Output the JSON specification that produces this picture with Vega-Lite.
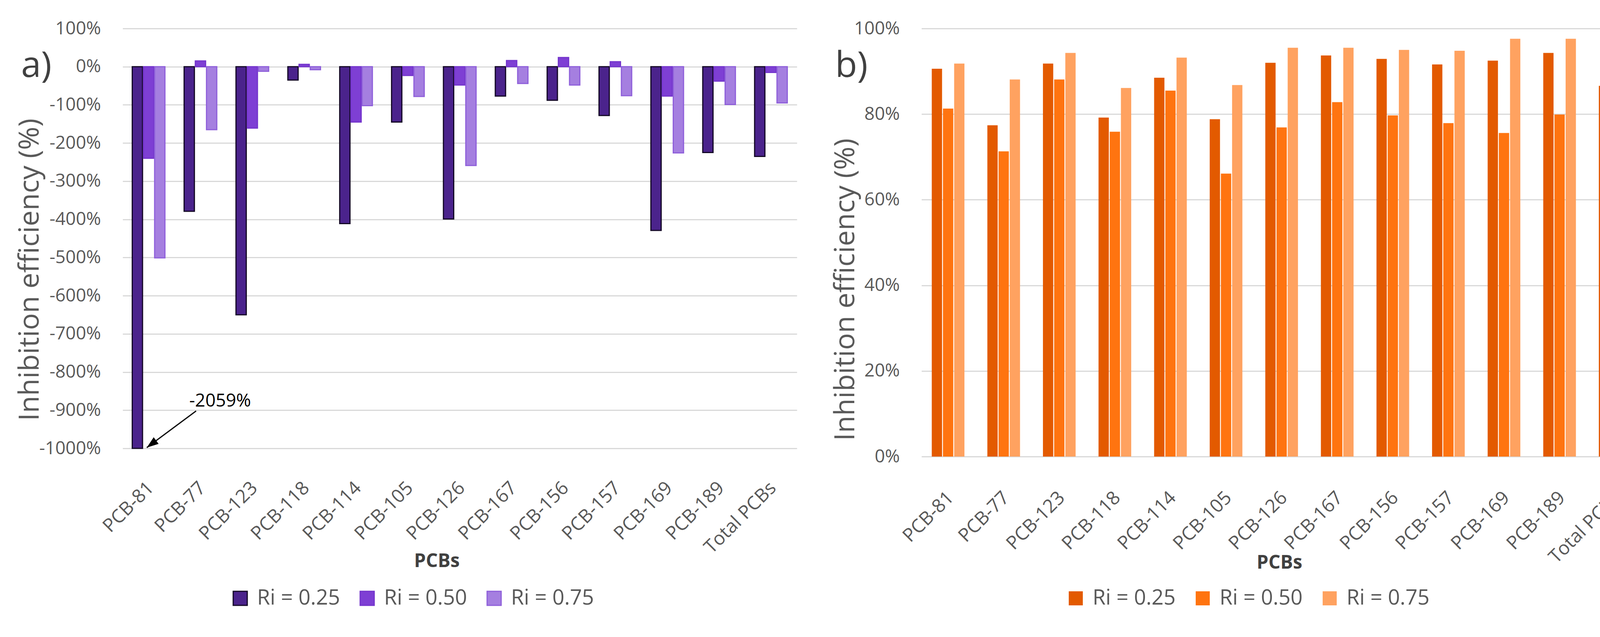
{
  "$schema": "https://vega.github.io/schema/vega-lite/v6.json",
  "background": "white",
  "padding": {"left": 40, "top": 50, "right": 58, "bottom": 72},
  "config": {
    "font": "Open Sans",
    "view": {"stroke": null},
    "axis": {"labelFont": "Open Sans", "titleFont": "Open Sans", "labelLimit": 0},
    "legend": {"labelFont": "Open Sans", "labelLimit": 0}
  },
  "datasets": {
    "a": [
      {"pcb": "PCB-81", "ri": "Ri = 0.25", "value": -2059},
      {"pcb": "PCB-81", "ri": "Ri = 0.50", "value": -240},
      {"pcb": "PCB-81", "ri": "Ri = 0.75", "value": -501},
      {"pcb": "PCB-77", "ri": "Ri = 0.25", "value": -379},
      {"pcb": "PCB-77", "ri": "Ri = 0.50", "value": 15},
      {"pcb": "PCB-77", "ri": "Ri = 0.75", "value": -165},
      {"pcb": "PCB-123", "ri": "Ri = 0.25", "value": -650},
      {"pcb": "PCB-123", "ri": "Ri = 0.50", "value": -161},
      {"pcb": "PCB-123", "ri": "Ri = 0.75", "value": -12},
      {"pcb": "PCB-118", "ri": "Ri = 0.25", "value": -35},
      {"pcb": "PCB-118", "ri": "Ri = 0.50", "value": 6},
      {"pcb": "PCB-118", "ri": "Ri = 0.75", "value": -8},
      {"pcb": "PCB-114", "ri": "Ri = 0.25", "value": -411},
      {"pcb": "PCB-114", "ri": "Ri = 0.50", "value": -145},
      {"pcb": "PCB-114", "ri": "Ri = 0.75", "value": -102},
      {"pcb": "PCB-105", "ri": "Ri = 0.25", "value": -145},
      {"pcb": "PCB-105", "ri": "Ri = 0.50", "value": -23},
      {"pcb": "PCB-105", "ri": "Ri = 0.75", "value": -78},
      {"pcb": "PCB-126", "ri": "Ri = 0.25", "value": -399},
      {"pcb": "PCB-126", "ri": "Ri = 0.50", "value": -48},
      {"pcb": "PCB-126", "ri": "Ri = 0.75", "value": -259},
      {"pcb": "PCB-167", "ri": "Ri = 0.25", "value": -77},
      {"pcb": "PCB-167", "ri": "Ri = 0.50", "value": 16},
      {"pcb": "PCB-167", "ri": "Ri = 0.75", "value": -44},
      {"pcb": "PCB-156", "ri": "Ri = 0.25", "value": -88},
      {"pcb": "PCB-156", "ri": "Ri = 0.50", "value": 24},
      {"pcb": "PCB-156", "ri": "Ri = 0.75", "value": -48},
      {"pcb": "PCB-157", "ri": "Ri = 0.25", "value": -128},
      {"pcb": "PCB-157", "ri": "Ri = 0.50", "value": 13},
      {"pcb": "PCB-157", "ri": "Ri = 0.75", "value": -76},
      {"pcb": "PCB-169", "ri": "Ri = 0.25", "value": -429},
      {"pcb": "PCB-169", "ri": "Ri = 0.50", "value": -77},
      {"pcb": "PCB-169", "ri": "Ri = 0.75", "value": -226},
      {"pcb": "PCB-189", "ri": "Ri = 0.25", "value": -225},
      {"pcb": "PCB-189", "ri": "Ri = 0.50", "value": -38},
      {"pcb": "PCB-189", "ri": "Ri = 0.75", "value": -99},
      {"pcb": "Total PCBs", "ri": "Ri = 0.25", "value": -235},
      {"pcb": "Total PCBs", "ri": "Ri = 0.50", "value": -15},
      {"pcb": "Total PCBs", "ri": "Ri = 0.75", "value": -95}
    ],
    "b": [
      {"pcb": "PCB-81", "ri": "Ri = 0.25", "value": 90.6},
      {"pcb": "PCB-81", "ri": "Ri = 0.50", "value": 81.3},
      {"pcb": "PCB-81", "ri": "Ri = 0.75", "value": 91.8},
      {"pcb": "PCB-77", "ri": "Ri = 0.25", "value": 77.4},
      {"pcb": "PCB-77", "ri": "Ri = 0.50", "value": 71.3},
      {"pcb": "PCB-77", "ri": "Ri = 0.75", "value": 88.1},
      {"pcb": "PCB-123", "ri": "Ri = 0.25", "value": 91.8},
      {"pcb": "PCB-123", "ri": "Ri = 0.50", "value": 88.1},
      {"pcb": "PCB-123", "ri": "Ri = 0.75", "value": 94.3},
      {"pcb": "PCB-118", "ri": "Ri = 0.25", "value": 79.2},
      {"pcb": "PCB-118", "ri": "Ri = 0.50", "value": 75.9},
      {"pcb": "PCB-118", "ri": "Ri = 0.75", "value": 86.1},
      {"pcb": "PCB-114", "ri": "Ri = 0.25", "value": 88.5},
      {"pcb": "PCB-114", "ri": "Ri = 0.50", "value": 85.5},
      {"pcb": "PCB-114", "ri": "Ri = 0.75", "value": 93.2},
      {"pcb": "PCB-105", "ri": "Ri = 0.25", "value": 78.8},
      {"pcb": "PCB-105", "ri": "Ri = 0.50", "value": 66.1},
      {"pcb": "PCB-105", "ri": "Ri = 0.75", "value": 86.8},
      {"pcb": "PCB-126", "ri": "Ri = 0.25", "value": 92.0},
      {"pcb": "PCB-126", "ri": "Ri = 0.50", "value": 76.9},
      {"pcb": "PCB-126", "ri": "Ri = 0.75", "value": 95.5},
      {"pcb": "PCB-167", "ri": "Ri = 0.25", "value": 93.7},
      {"pcb": "PCB-167", "ri": "Ri = 0.50", "value": 82.8},
      {"pcb": "PCB-167", "ri": "Ri = 0.75", "value": 95.5},
      {"pcb": "PCB-156", "ri": "Ri = 0.25", "value": 92.9},
      {"pcb": "PCB-156", "ri": "Ri = 0.50", "value": 79.7},
      {"pcb": "PCB-156", "ri": "Ri = 0.75", "value": 95.0},
      {"pcb": "PCB-157", "ri": "Ri = 0.25", "value": 91.6},
      {"pcb": "PCB-157", "ri": "Ri = 0.50", "value": 77.9},
      {"pcb": "PCB-157", "ri": "Ri = 0.75", "value": 94.8},
      {"pcb": "PCB-169", "ri": "Ri = 0.25", "value": 92.5},
      {"pcb": "PCB-169", "ri": "Ri = 0.50", "value": 75.6},
      {"pcb": "PCB-169", "ri": "Ri = 0.75", "value": 97.6},
      {"pcb": "PCB-189", "ri": "Ri = 0.25", "value": 94.3},
      {"pcb": "PCB-189", "ri": "Ri = 0.50", "value": 79.9},
      {"pcb": "PCB-189", "ri": "Ri = 0.75", "value": 97.6},
      {"pcb": "Total PCBs", "ri": "Ri = 0.25", "value": 86.6},
      {"pcb": "Total PCBs", "ri": "Ri = 0.50", "value": 76.5},
      {"pcb": "Total PCBs", "ri": "Ri = 0.75", "value": 92.0}
    ],
    "note": [{"pcb": "PCB-77", "value": -876, "label": "-2059%"}],
    "arrow": [{"pcb": "PCB-77", "pcb2": "PCB-81", "value": -902, "value2": -998}],
    "head": [{"pcb": "PCB-81", "value": -998}]
  },
  "spacing": 88,
  "resolve": {"scale": {"color": "independent", "stroke": "independent"}},
  "hconcat": [
    {
      "width": 1726,
      "height": 1075,
      "title": {"text": "a)", "anchor": "start", "frame": "group", "fontSize": 92, "fontWeight": "normal", "color": "#404040", "align": "left", "dx": -260, "dy": 170},
      "layer": [
        {
          "data": {"name": "a"},
          "mark": {"type": "bar", "strokeWidth": 3},
          "encoding": {
            "x": {"field": "pcb", "type": "nominal", "sort": null,
              "scale": {"domain": ["PCB-81","PCB-77","PCB-123","PCB-118","PCB-114","PCB-105","PCB-126","PCB-167","PCB-156","PCB-157","PCB-169","PCB-189","Total PCBs"], "paddingInner": 0.37, "paddingOuter": 0.185},
              "axis": {"title": "PCBs", "titleFontSize": 48, "titleFontWeight": "bold", "titleColor": "#404040", "titleX": 804, "titleY": 289, "titleBaseline": "middle", "labelAngle": -45, "labelAlign": "right", "labelBaseline": "middle", "labelFontSize": 48, "labelColor": "#595959", "labelPadding": 94, "labelOffset": 6, "ticks": false, "domain": false, "grid": false}},
            "xOffset": {"field": "ri", "type": "nominal", "scale": {"domain": ["Ri = 0.25","Ri = 0.50","Ri = 0.75"], "paddingInner": 0.08}},
            "y": {"field": "value", "type": "quantitative",
              "scale": {"domain": [-1000, 100], "nice": false, "clamp": true},
              "axis": {"title": "Inhibition efficiency (%)", "titleFontSize": 72, "titleFontWeight": "normal", "titleColor": "#595959", "titleX": -238, "titleY": 617, "titleBaseline": "middle", "titleAlign": "center", "titleAngle": -90,
                "values": [-1000,-900,-800,-700,-600,-500,-400,-300,-200,-100,0,100], "labelExpr": "datum.value + '%'", "labelFontSize": 46, "labelColor": "#595959", "labelPadding": 56, "ticks": false, "domain": false, "gridColor": "#d9d9d9", "gridWidth": 3}},
            "color": {"field": "ri", "type": "nominal",
              "scale": {"domain": ["Ri = 0.25","Ri = 0.50","Ri = 0.75"], "range": ["#4B238C", "#7E3FD4", "#A57FE0"]},
              "legend": {"title": null, "orient": "none", "legendX": 274, "legendY": 1432, "direction": "horizontal", "symbolType": "square", "symbolSize": 1296, "symbolStrokeWidth": 3, "labelFontSize": 54, "labelColor": "#595959", "labelOffset": 16, "columnPadding": 42, "padding": 0}},
            "stroke": {"field": "ri", "type": "nominal",
              "scale": {"domain": ["Ri = 0.25","Ri = 0.50","Ri = 0.75"], "range": ["#140826", "#7435CC", "#8F60DA"]},
              "legend": null}
          }
        },
        {
          "data": {"name": "arrow"},
          "mark": {"type": "rule", "stroke": "black", "strokeWidth": 3},
          "encoding": {
            "x": {"field": "pcb", "type": "nominal", "bandPosition": 0.367},
            "x2": {"field": "pcb2", "bandPosition": 0.445},
            "y": {"field": "value", "type": "quantitative"},
            "y2": {"field": "value2"}
          }
        },
        {
          "data": {"name": "head"},
          "mark": {"type": "point", "shape": "M0,0L0.42,1.2L-0.42,1.2Z", "filled": true, "color": "black", "opacity": 1, "size": 2500, "angle": 233, "strokeWidth": 0},
          "encoding": {
            "x": {"field": "pcb", "type": "nominal", "bandPosition": 0.445},
            "y": {"field": "value", "type": "quantitative"}
          }
        },
        {
          "data": {"name": "note"},
          "mark": {"type": "text", "align": "left", "baseline": "middle", "fontSize": 46, "color": "black"},
          "encoding": {
            "x": {"field": "pcb", "type": "nominal", "bandPosition": 0.158},
            "y": {"field": "value", "type": "quantitative"},
            "text": {"field": "label"}
          }
        }
      ]
    },
    {
      "width": 1850,
      "height": 1096,
      "title": {"text": "b)", "anchor": "start", "frame": "group", "fontSize": 92, "fontWeight": "normal", "color": "#404040", "align": "left", "dx": -221, "dy": 170},
      "data": {"name": "b"},
      "mark": {"type": "bar"},
      "encoding": {
        "x": {"field": "pcb", "type": "nominal", "sort": null,
          "scale": {"domain": ["PCB-81","PCB-77","PCB-123","PCB-118","PCB-114","PCB-105","PCB-126","PCB-167","PCB-156","PCB-157","PCB-169","PCB-189","Total PCBs"], "paddingInner": 0.37, "paddingOuter": 0.185},
          "axis": {"title": "PCBs", "titleFontSize": 48, "titleFontWeight": "bold", "titleColor": "#404040", "titleX": 916, "titleY": 272, "titleBaseline": "middle", "labelAngle": -45, "labelAlign": "right", "labelBaseline": "middle", "labelFontSize": 48, "labelColor": "#595959", "labelPadding": 98, "labelOffset": 4, "ticks": false, "domain": false, "grid": false}},
        "xOffset": {"field": "ri", "type": "nominal", "scale": {"domain": ["Ri = 0.25","Ri = 0.50","Ri = 0.75"], "paddingInner": 0.05}},
        "y": {"field": "value", "type": "quantitative",
          "scale": {"domain": [0, 100], "nice": false},
          "axis": {"title": "Inhibition efficiency (%)", "titleFontSize": 72, "titleFontWeight": "normal", "titleColor": "#595959", "titleX": -195, "titleY": 668, "titleBaseline": "middle", "titleAlign": "center", "titleAngle": -90,
            "values": [0, 20, 40, 60, 80, 100], "labelExpr": "datum.value + '%'", "labelFontSize": 46, "labelColor": "#595959", "labelPadding": 56, "ticks": false, "domain": false, "gridColor": "#d9d9d9", "gridWidth": 3}},
        "color": {"field": "ri", "type": "nominal",
          "scale": {"domain": ["Ri = 0.25","Ri = 0.50","Ri = 0.75"], "range": ["#E35A00", "#FF7410", "#FFA260"]},
          "legend": {"title": null, "orient": "none", "legendX": 368, "legendY": 1432, "direction": "horizontal", "symbolType": "square", "symbolSize": 1296, "symbolStrokeWidth": 0, "labelFontSize": 54, "labelColor": "#595959", "labelOffset": 16, "columnPadding": 42, "padding": 0}}
      }
    }
  ]
}
